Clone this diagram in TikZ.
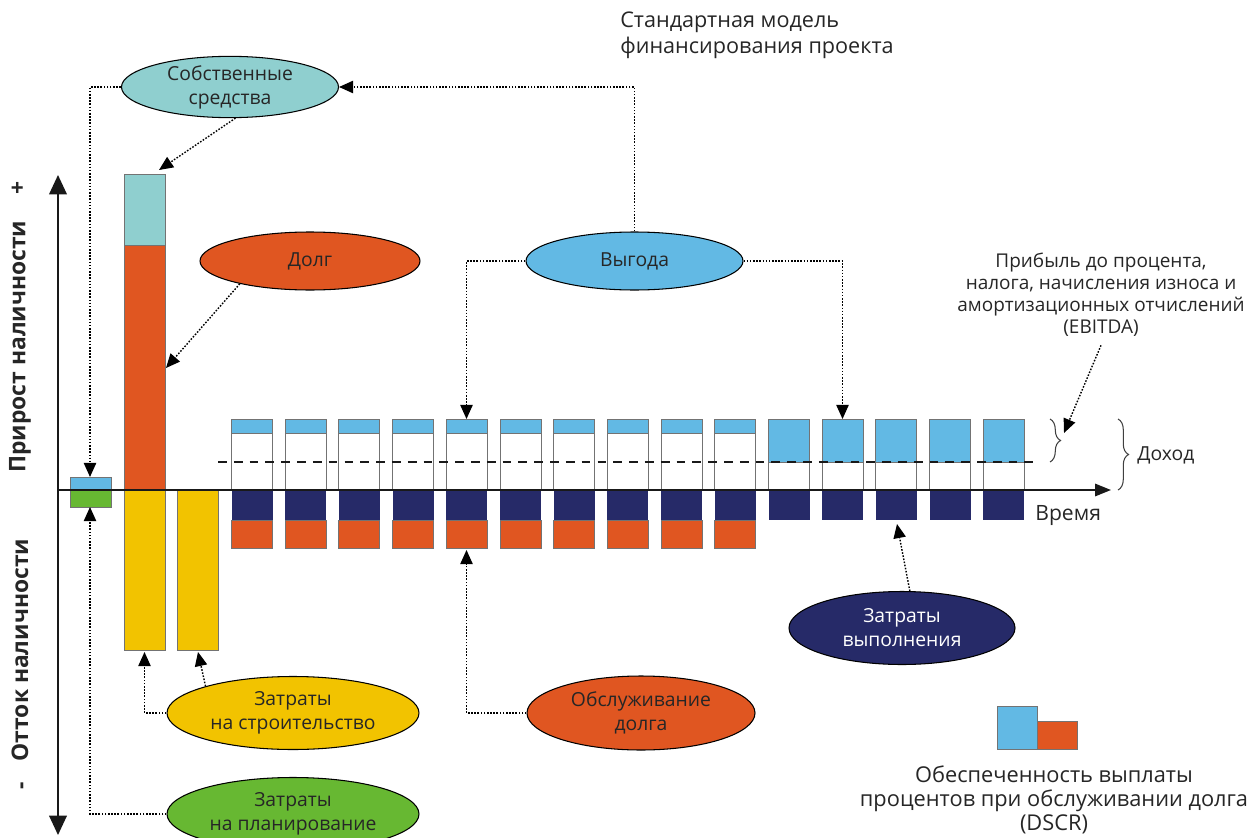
\documentclass[tikz,border=0pt]{standalone}
\usepackage{fontspec}
\setmainfont{Open Sans}
\usetikzlibrary{shapes.geometric,arrows.meta,decorations.pathreplacing}
\newdimen\pxu \pxu=0.02cm
\definecolor{cEquity}{HTML}{8FCFCF}
\definecolor{cOrange}{HTML}{E05621}
\definecolor{cBlue}{HTML}{62B9E4}
\definecolor{cNavy}{HTML}{262A68}
\definecolor{cYellow}{HTML}{F2C300}
\definecolor{cGreen}{HTML}{67B832}
\newcommand{\lbl}{\fontsize{11}{13.6}\selectfont}
\begin{document}
\begin{tikzpicture}[x={(0.02cm,0)},y={(0,-0.02cm)},
  bubble/.style={ellipse, draw=black, line width=0.6pt, inner sep=0pt, align=center, font=\lbl, text=black!85},
  link/.style={line width=0.8pt, dash pattern=on 0.9pt off 0.9pt, -{Triangle[length=8pt,width=7pt]}},
  barline/.style={draw=black!55, line width=0.5pt},
  plain/.style={font=\lbl, text=black!85, inner sep=0pt, align=center},
  axisline/.style={line width=1pt, black!90},
  bracestyle/.style={decorate, decoration={brace, amplitude=6pt}, line width=0.6pt, black!75}]
\useasboundingbox (0,0) rectangle (1257,838);
\clip (0,0) rectangle (1257,838);

% planning cost box and first bars
\draw[barline, fill=cBlue] (70,477) rectangle (111,490);
\draw[barline, fill=cGreen] (70,490) rectangle (111,507);
\draw[barline, fill=cEquity] (124,174) rectangle (165,245);
\draw[barline, fill=cOrange] (124,245) rectangle (165,490);
\draw[barline, fill=cYellow] (124,490) rectangle (165,650);
\draw[barline, fill=cYellow] (177,490) rectangle (218,650);

% operating periods with debt service
\foreach \i in {0,...,9} {
  \pgfmathsetmacro\xx{231.5+53.7*\i}
  \draw[barline, fill=white] (\xx,433) rectangle ++(41,57);
  \draw[barline, fill=cBlue] (\xx,419) rectangle ++(41,14);
  \fill[cNavy] (\xx,490) rectangle ++(41,30);
  \draw[barline, fill=cOrange] (\xx,520) rectangle ++(41,28);
}
% operating periods after repayment
\foreach \i in {10,...,14} {
  \pgfmathsetmacro\xx{231.5+53.7*\i}
  \draw[barline, fill=white] (\xx,462) rectangle ++(41,28);
  \draw[barline, fill=cBlue] (\xx,419) rectangle ++(41,43);
  \fill[cNavy] (\xx,490) rectangle ++(41,30);
}

% EBITDA level
\draw[line width=1.1pt, black!90, dash pattern=on 5pt off 4pt] (218,462) -- (1037,462);

% axes
\draw[axisline, {Triangle[length=11pt,width=10pt]}-{Triangle[length=11pt,width=10pt]}] (58,175) -- (58,835);
\draw[axisline, -{Triangle[length=9pt,width=7pt]}] (58,490) -- (1111,490);

% braces
\draw[bracestyle] (1050,419) -- (1050,462);
\draw[bracestyle] (1118,419) -- (1118,490);

% axis labels
\node[plain, rotate=90, font=\fontsize{13}{15}\selectfont\bfseries] (inflow) at (20,327) {Прирост наличности\hspace{1.15em}+};
\node[plain, rotate=90, font=\fontsize{13}{15}\selectfont\bfseries] (outflow) at (20,664) {-\hspace{0.9em}Отток наличности};
\node[plain, anchor=west, font=\fontsize{12}{14}\selectfont] (time) at (1035,516) {Время};
\node[plain, anchor=west] (income) at (1137,455) {Доход};

% texts
\node[plain, anchor=west, align=left, font=\fontsize{12.3}{15}\selectfont] (title) at (620,35) {Стандартная модель\\финансирования проекта};
\node[plain, font=\fontsize{10.8}{12.6}\selectfont] (ebitda) at (1101,295) {Прибыль до процента,\\налога, начисления износа и\\амортизационных отчислений\\(EBITDA)};
\node[plain, font=\fontsize{12.4}{13.8}\selectfont] (dscr) at (1054,800) {Обеспеченность выплаты\\процентов при обслуживании долга\\(DSCR)};

% legend
\draw[barline, fill=cBlue] (997,706) rectangle (1037,749);
\draw[barline, fill=cOrange] (1037,721) rectangle (1077,749);

% bubbles
\node[bubble, fill=cEquity, minimum width=217\pxu, minimum height=58\pxu] (own) at (230,87) {Собственные\\средства};
\node[bubble, fill=cOrange, minimum width=220\pxu, minimum height=58\pxu] (debt) at (310,261) {Долг};
\node[bubble, fill=cBlue, minimum width=217\pxu, minimum height=58\pxu] (gain) at (634.5,261) {Выгода};
\node[bubble, fill=cYellow, minimum width=252\pxu, minimum height=73\pxu] (build) at (293,713) {Затраты\\на строительство};
\node[bubble, fill=cGreen, minimum width=252\pxu, minimum height=73\pxu] (plan) at (293,814) {Затраты\\на планирование};
\node[bubble, fill=cOrange, minimum width=228\pxu, minimum height=74\pxu] (service) at (641,713) {Обслуживание\\долга};
\node[bubble, fill=cNavy, text=white, minimum width=226\pxu, minimum height=73\pxu] (perf) at (902,628) {Затраты\\выполнения};

% connector targets
\coordinate (planTop) at (90,477);
\coordinate (planBot) at (90,507);
\coordinate (eqTop) at (159,170);
\coordinate (debtTgt) at (166,368);
\coordinate (colTop4) at (466.5,419);
\coordinate (colTop11) at (842.5,419);
\coordinate (colBot4) at (466.5,550);
\coordinate (bar1Bot) at (144.5,652);
\coordinate (bar2Bot) at (198,652);
\coordinate (braceTip) at (1064,433);
\coordinate (perfTgt) at (897,524);

% connectors
\draw[link] (own.west) -| (planTop);
\draw[link] (own.-80) -- (eqTop);
\draw[link] (gain.north) |- (own.east);
\draw[link] (gain.west) -| (colTop4);
\draw[link] (gain.east) -| (colTop11);
\draw[link] (debt.-162) -- (debtTgt);
\draw[link] (ebitda.south) ++(0,8) -- (braceTip);
\draw[link] (perf.78) -- (perfTgt);
\draw[link] (service.west) -| (colBot4);
\draw[link] (build.west) -| (bar1Bot);
\draw[link] (build.163) -- (bar2Bot);
\draw[link] (plan.west) -| (planBot);
\end{tikzpicture}
\end{document}
